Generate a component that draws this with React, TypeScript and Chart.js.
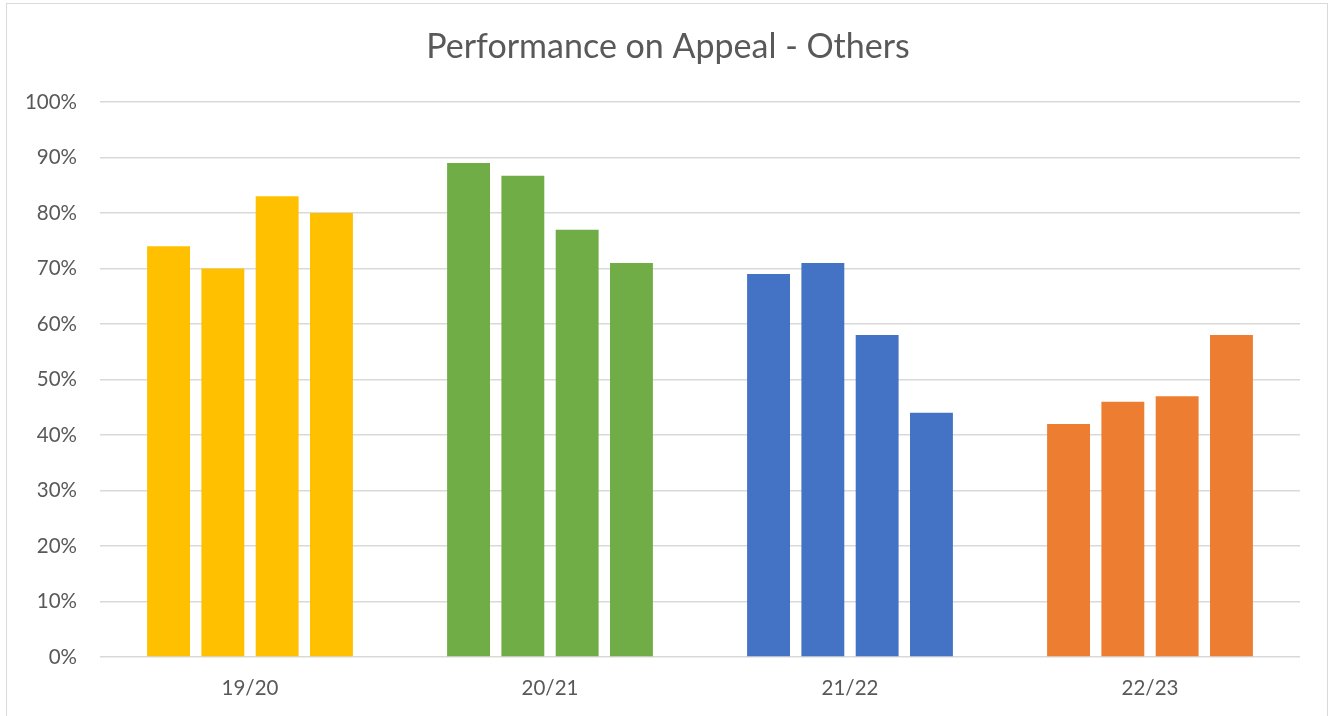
import React, { useEffect, useRef } from "react";
import { Chart, registerables } from "chart.js";

Chart.register(...registerables);

const chartTitle = "Performance on Appeal - Others";
const categories = ["19/20", "20/21", "21/22", "22/23"];
const bar1 = [74, 89, 69, 42];
const bar2 = [70, 86.7, 71, 46];
const bar3 = [83, 77, 58, 47];
const bar4 = [80, 71, 44, 58];
const seriesNames = ["Bar 1", "Bar 2", "Bar 3", "Bar 4"];
const categoryColors = ["#FFC000", "#70AD47", "#4472C4", "#ED7D31"];
const yTicks = [0, 10, 20, 30, 40, 50, 60, 70, 80, 90, 100];

const FONT = "Lato, 'Open Sans', sans-serif";
const TEXT = "#595959";

export default function App() {
  const ref = useRef<HTMLCanvasElement | null>(null);

  useEffect(() => {
    if (!ref.current) return;
    const titlePlugin = {
      id: "customTitle",
      afterDraw(chart: any) {
        const ctx = chart.ctx;
        ctx.save();
        ctx.fillStyle = TEXT;
        ctx.font = `34px ${FONT}`;
        ctx.textAlign = "center";
        ctx.textBaseline = "middle";
        ctx.fillText(chartTitle, 668, 47);
        ctx.restore();
      },
    };
    const chart = new Chart(ref.current, {
      type: "bar",
      data: {
        labels: categories,
        datasets: [bar1, bar2, bar3, bar4].map((d, i) => ({
          label: seriesNames[i],
          data: d,
          backgroundColor: categoryColors,
          borderWidth: 0,
          categoryPercentage: 0.724,
          barPercentage: 0.79,
        })),
      },
      options: {
        animation: false,
        responsive: false,
        maintainAspectRatio: false,
        layout: { padding: { top: 102, right: 32, left: 0, bottom: 0 } },
        plugins: {
          legend: { display: false },
          title: { display: false },
          tooltip: { enabled: false },
        },
        scales: {
          x: {
            grid: { display: false, drawTicks: false },
            border: { display: false },
            ticks: {
              color: TEXT,
              font: { family: FONT, size: 20.5 },
              padding: 19,
            },
            afterFit(scale: any) {
              scale.height = 59;
            },
          },
          y: {
            min: 0,
            max: 100,
            afterBuildTicks(scale: any) {
              scale.ticks = yTicks.map((v) => ({ value: v }));
            },
            grid: { color: "#d9d9d9", lineWidth: 1.5, drawTicks: false },
            border: { display: false },
            ticks: {
              color: TEXT,
              font: { family: FONT, size: 20.5 },
              padding: 23,
              callback: (v: any) => `${v}%`,
            },
            afterFit(scale: any) {
              scale.width = 100;
            },
          },
        },
      },
      plugins: [titlePlugin],
    });
    return () => chart.destroy();
  }, []);

  return (
    <div
      style={{
        position: "fixed",
        left: 0,
        top: 0,
        width: 1332,
        height: 716,
        overflow: "hidden",
        background: "#fff",
      }}
    >
      <div
        style={{
          position: "absolute",
          left: 6,
          top: 3,
          width: 1322,
          height: 740,
          border: "1px solid #d9d9d9",
          boxSizing: "border-box",
        }}
      />
      <canvas
        ref={ref}
        width={1332}
        height={716}
        style={{ position: "absolute", left: 0, top: 0, width: 1332, height: 716 }}
      />
    </div>
  );
}
